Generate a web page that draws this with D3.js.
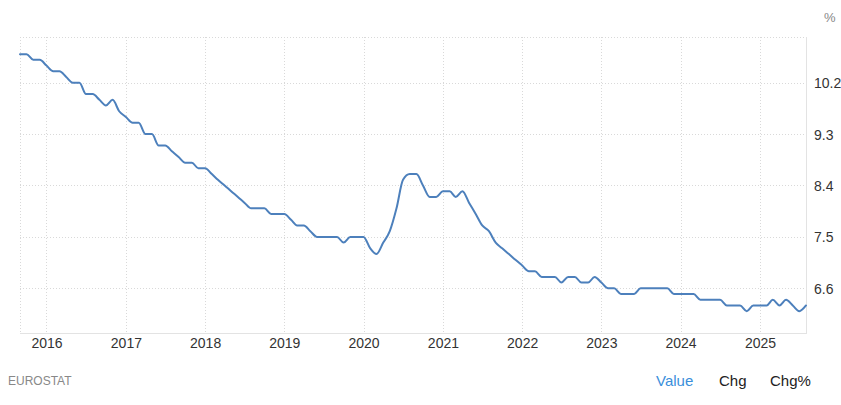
<!DOCTYPE html>
<html>
<head>
<meta charset="utf-8">
<script src="https://cdn.jsdelivr.net/npm/d3@7"></script>
<style>
  html, body { margin: 0; padding: 0; background: #fff; }
  svg { display: block; font-family: "Liberation Sans", Arial, sans-serif; }
</style>
</head>
<body>
<svg id="chart" width="841" height="405"></svg>
<script>
// ---- data ----
const startMonth = "2015-09";
const endMonth = "2025-08";
const values = [
  10.7, 10.7, 10.6, 10.6,                                           // 2015 Sep-Dec
  10.5, 10.4, 10.4, 10.3, 10.2, 10.2, 10.0, 10.0, 9.9, 9.8, 9.9, 9.7, // 2016
  9.6, 9.5, 9.5, 9.3, 9.3, 9.1, 9.1, 9.0, 8.9, 8.8, 8.8, 8.7,        // 2017
  8.7, 8.6, 8.5, 8.4, 8.3, 8.2, 8.1, 8.0, 8.0, 8.0, 7.9, 7.9,        // 2018
  7.9, 7.8, 7.7, 7.7, 7.6, 7.5, 7.5, 7.5, 7.5, 7.4, 7.5, 7.5,        // 2019
  7.5, 7.3, 7.2, 7.4, 7.6, 8.0, 8.5, 8.6, 8.6, 8.4, 8.2, 8.2,        // 2020
  8.3, 8.3, 8.2, 8.3, 8.1, 7.9, 7.7, 7.6, 7.4, 7.3, 7.2, 7.1,        // 2021
  7.0, 6.9, 6.9, 6.8, 6.8, 6.8, 6.7, 6.8, 6.8, 6.7, 6.7, 6.8,        // 2022
  6.7, 6.6, 6.6, 6.5, 6.5, 6.5, 6.6, 6.6, 6.6, 6.6, 6.6, 6.5,        // 2023
  6.5, 6.5, 6.5, 6.4, 6.4, 6.4, 6.4, 6.3, 6.3, 6.3, 6.2, 6.3,        // 2024
  6.3, 6.3, 6.4, 6.3, 6.4, 6.3, 6.2, 6.3                             // 2025 Jan-Aug
];
const yTicks = [6.6, 7.5, 8.4, 9.3, 10.2];
const yDomain = [5.8, 11.0];
const xTickYears = [2016, 2017, 2018, 2019, 2020, 2021, 2022, 2023, 2024, 2025];
const unitLabel = "%";
const sourceLabel = "EUROSTAT";
const tabLabels = ["Value", "Chg", "Chg%"];

// ---- build ----
(function () {
const parse = d3.timeParse("%Y-%m");
const months = d3.timeMonth.range(parse(startMonth), d3.timeMonth.offset(parse(endMonth), 1));
const data = months.map((d, i) => ({ date: d, value: values[i] }));

const svg = d3.select("#chart");
const pLeft = 20, pRight = 806, pTop = 37, pBottom = 334;

const x = d3.scaleTime().domain([months[0], months[months.length - 1]]).range([pLeft, pRight]);
const y = d3.scaleLinear().domain(yDomain).range([pBottom, pTop]);

const gridColor = "#d9d9d9";

// horizontal gridlines (ticks + top)
svg.append("g").selectAll("line")
  .data(yTicks.concat([yDomain[1]]))
  .join("line")
  .attr("x1", pLeft).attr("x2", pRight)
  .attr("y1", d => Math.round(y(d)) + 0.5).attr("y2", d => Math.round(y(d)) + 0.5)
  .attr("stroke", gridColor).attr("stroke-width", 1).attr("stroke-dasharray", "1,2");

// vertical gridlines
const yearDates = xTickYears.map(yr => new Date(yr, 0, 1));
svg.append("g").selectAll("line")
  .data(yearDates.concat([months[0]]))
  .join("line")
  .attr("x1", d => Math.round(x(d)) + 0.5).attr("x2", d => Math.round(x(d)) + 0.5)
  .attr("y1", pTop).attr("y2", pBottom)
  .attr("stroke", gridColor).attr("stroke-width", 1).attr("stroke-dasharray", "1,2");

// right border + bottom axis line
svg.append("line")
  .attr("x1", pRight + 0.5).attr("x2", pRight + 0.5).attr("y1", pTop).attr("y2", pBottom)
  .attr("stroke", "#e3e3e3");
svg.append("line")
  .attr("x1", pLeft).attr("x2", pRight + 1).attr("y1", pBottom - 0.5).attr("y2", pBottom - 0.5)
  .attr("stroke", "#e3e3e3");

// x axis labels
const xAxis = d3.axisBottom(x).tickValues(yearDates).tickFormat(d3.timeFormat("%Y")).tickSize(0).tickPadding(0);
const gx = svg.append("g").attr("transform", `translate(0,${pBottom})`).call(xAxis);
gx.select(".domain").remove();
gx.selectAll("text")
  .attr("dy", null).attr("y", 14)
  .attr("font-size", 14).attr("fill", "#333")
  .style("font-family", "'Liberation Sans', Arial, sans-serif");

// y axis labels (right)
const yAxis = d3.axisRight(y).tickValues(yTicks).tickFormat(d3.format(".1f")).tickSize(0).tickPadding(0);
const gy = svg.append("g").attr("transform", `translate(814,0)`).call(yAxis);
gy.select(".domain").remove();
gy.selectAll("text")
  .attr("x", 0).attr("dy", "0.35em")
  .attr("text-anchor", "start")
  .attr("font-size", 14).attr("fill", "#333")
  .style("font-family", "'Liberation Sans', Arial, sans-serif");

// unit label
svg.append("text").attr("x", 824).attr("y", 22)
  .attr("font-size", 13).attr("fill", "#888").text(unitLabel);

// line
const line = d3.line()
  .x(d => x(d.date))
  .y(d => y(d.value))
  .curve(d3.curveMonotoneX);

svg.append("path")
  .datum(data)
  .attr("d", line)
  .attr("fill", "none")
  .attr("stroke", "#4d80bc")
  .attr("stroke-width", 2)
  .attr("stroke-linejoin", "round")
  .attr("stroke-linecap", "round");

// footer
svg.append("text").attr("x", 8).attr("y", 385)
  .attr("font-size", 12).attr("fill", "#888").text(sourceLabel);

const tabX = [656, 719, 770];
const tabColor = ["#3a8fdb", "#222", "#222"];
svg.append("g").selectAll("text")
  .data(tabLabels)
  .join("text")
  .attr("x", (d, i) => tabX[i]).attr("y", 386)
  .attr("font-size", 15).attr("fill", (d, i) => tabColor[i])
  .text(d => d);
})();
</script>
</body>
</html>
